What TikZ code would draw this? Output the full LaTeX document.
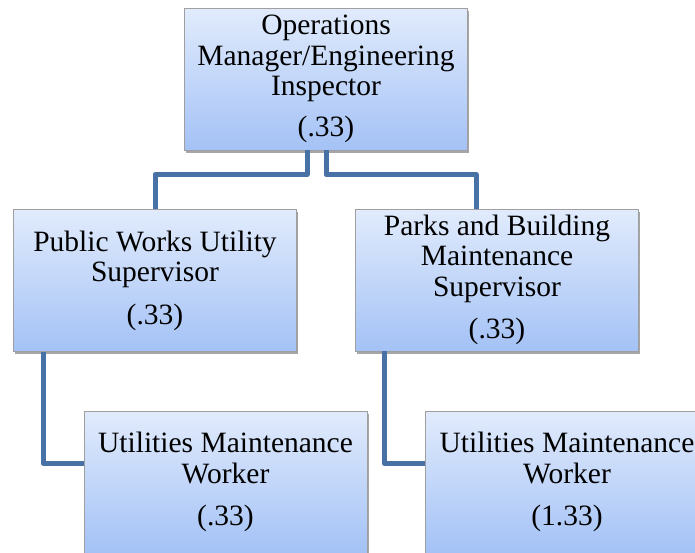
\documentclass[tikz,border=0pt]{standalone}
\usepackage{fontspec}
\setmainfont{Liberation Serif}
\usetikzlibrary{positioning, shadows}
\definecolor{boxtop}{RGB}{225,235,252}
\definecolor{boxbot}{RGB}{164,194,246}
\definecolor{linkblue}{RGB}{72,114,166}

\begin{document}
\begin{tikzpicture}[x=1pt, y=-1pt,
  post/.style={draw=gray!75, line width=0.8pt, top color=boxtop, bottom color=boxbot,
    minimum width=283pt, minimum height=142pt, inner sep=0pt, align=center,
    font=\fontsize{29.5}{30.5}\selectfont,
    drop shadow={shadow xshift=1.5pt, shadow yshift=-2.5pt, fill=black, opacity=0.35}},
  link/.style={draw=linkblue, line width=5pt, line join=round}]
  \useasboundingbox (0,0) rectangle (695,552);
  \clip (0,0) rectangle (695,552);

  \node[post] (ops)  at (326,79)    {Operations\\Manager/Engineering\\Inspector\\[10pt](.33)};
  \node[post] (pwus) at (155,280.5) {Public Works Utility\\Supervisor\\[12pt](.33)};
  \node[post] (pbms) at (497,280)   {Parks and Building\\Maintenance\\Supervisor\\[12pt](.33)};
  \node[post] (umw1) at (225.5,482) {Utilities Maintenance\\Worker\\[12pt](.33)};
  \node[post] (umw2) at (567,482)   {Utilities Maintenance\\Worker\\[12pt](1.33)};

  \draw[link] ([xshift=-19pt]ops.south) -- ++(0,24) -| (pwus.north);
  \draw[link] (ops.south) -- ++(0,24) -| ([xshift=-21pt]pbms.north);
  \draw[link] ([xshift=-112pt]pwus.south) |- ([yshift=19pt]umw1.west);
  \draw[link] ([xshift=-113pt]pbms.south) |- ([yshift=19pt]umw2.west);

\end{tikzpicture}
\end{document}
